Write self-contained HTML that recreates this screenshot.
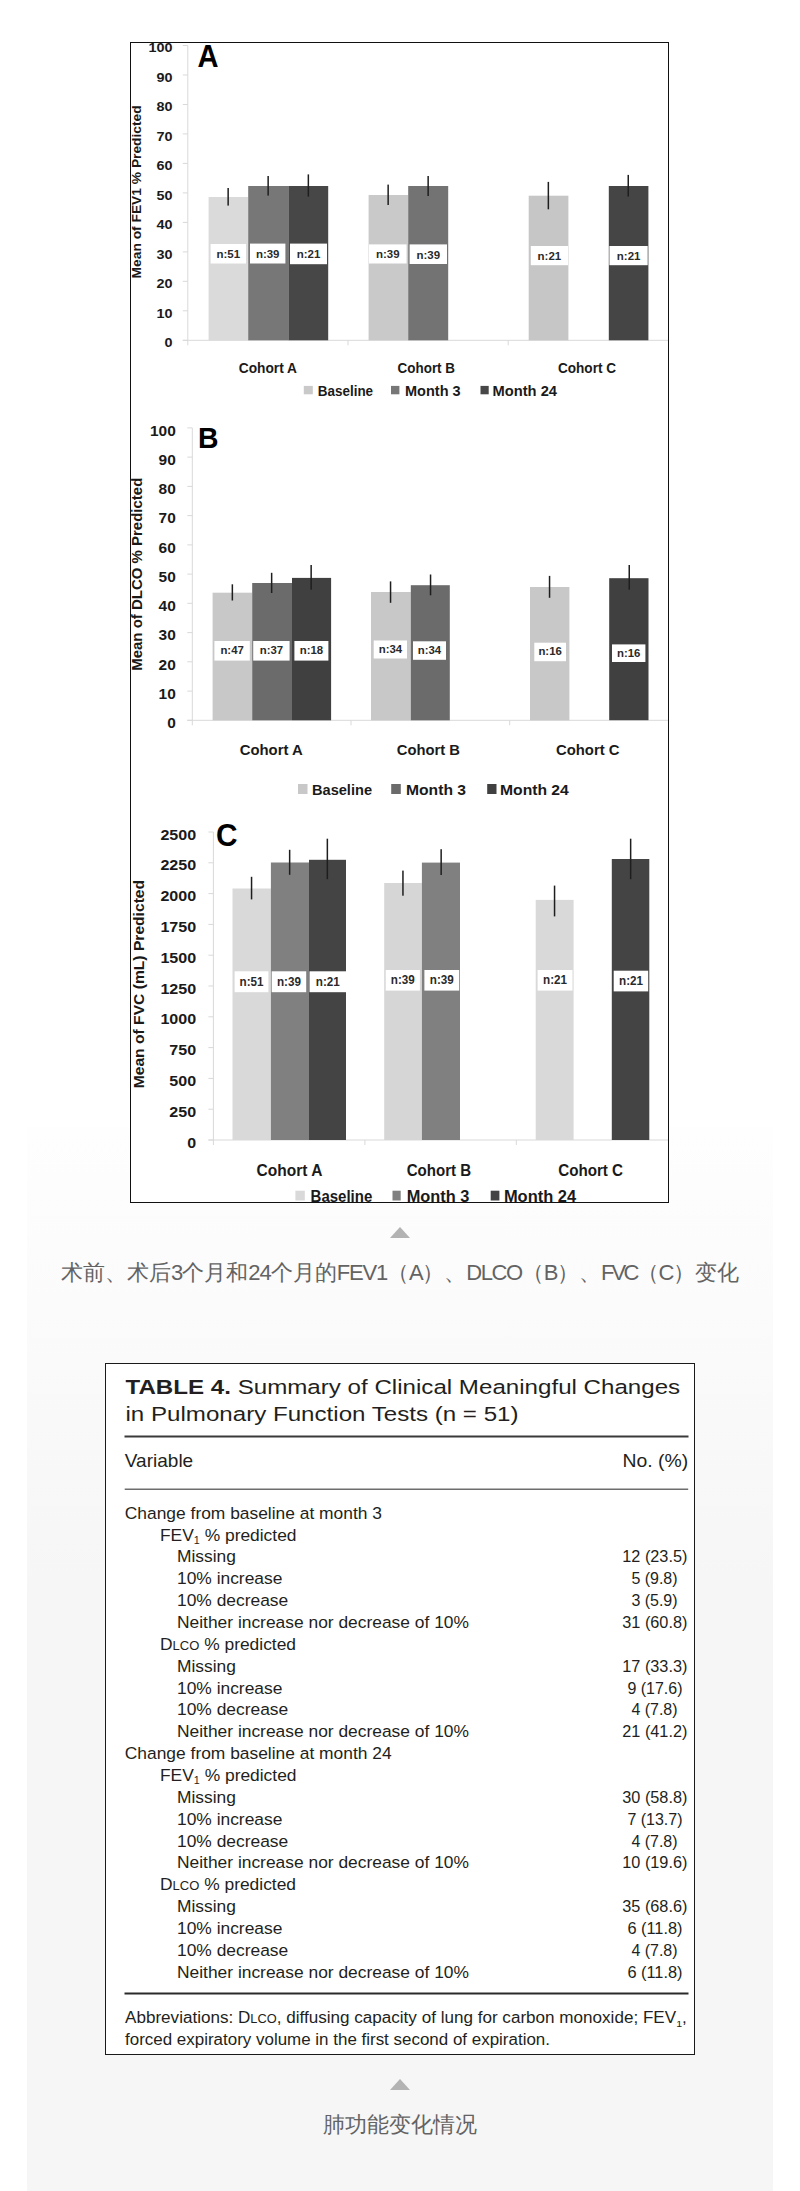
<!DOCTYPE html>
<html><head><meta charset="utf-8">
<style>
html,body{margin:0;padding:0;}
body{width:800px;height:2191px;position:relative;overflow:hidden;background:#fff;font-family:'Liberation Sans', sans-serif;}
.panel{position:absolute;left:27px;top:1127px;width:746px;height:1064px;background:linear-gradient(to bottom,#fefefe 0px,#fbfbfb 180px,#f6f6f6 460px,#f6f6f6 1064px);}
.chartbox{position:absolute;left:130px;top:42px;width:537px;height:1159px;border:1px solid #111;background:#fff;}
.tri{position:absolute;width:0;height:0;border-left:10px solid transparent;border-right:10px solid transparent;border-bottom:11px solid #b3b3b3;}
.cap{position:absolute;left:0;width:800px;text-align:center;color:#636363;font-size:22px;line-height:30px;}
.tablebox{position:absolute;left:105px;top:1363px;width:588px;height:690px;border:1px solid #1a1a1a;background:#fff;}
svg{position:absolute;left:0;top:0;}
</style></head><body>
<div class="panel"></div>
<div class="chartbox"></div>
<svg width="800" height="1210" viewBox="0 0 800 1210" style="font-family:'Liberation Sans', sans-serif">
<defs><clipPath id="cb"><rect x="131" y="43" width="537" height="1159"/></clipPath></defs>
<g clip-path="url(#cb)">
<rect x="187.3" y="45.5" width="1.0" height="295.3" fill="#d9d9d9"/>
<rect x="182.8" y="339.8" width="485.2" height="1.0" fill="#d9d9d9"/>
<rect x="182.8" y="339.8" width="5.0" height="1.0" fill="#d9d9d9"/>
<text x="164.4" y="347.2" font-size="13.5" font-weight="bold" fill="#1a1a1a" text-anchor="start" textLength="8.0" lengthAdjust="spacingAndGlyphs">0</text>
<rect x="182.8" y="310.3" width="5.0" height="1.0" fill="#d9d9d9"/>
<text x="156.4" y="317.7" font-size="13.5" font-weight="bold" fill="#1a1a1a" text-anchor="start" textLength="16.0" lengthAdjust="spacingAndGlyphs">10</text>
<rect x="182.8" y="280.8" width="5.0" height="1.0" fill="#d9d9d9"/>
<text x="156.4" y="288.2" font-size="13.5" font-weight="bold" fill="#1a1a1a" text-anchor="start" textLength="16.0" lengthAdjust="spacingAndGlyphs">20</text>
<rect x="182.8" y="251.4" width="5.0" height="1.0" fill="#d9d9d9"/>
<text x="156.4" y="258.8" font-size="13.5" font-weight="bold" fill="#1a1a1a" text-anchor="start" textLength="16.0" lengthAdjust="spacingAndGlyphs">30</text>
<rect x="182.8" y="221.9" width="5.0" height="1.0" fill="#d9d9d9"/>
<text x="156.4" y="229.3" font-size="13.5" font-weight="bold" fill="#1a1a1a" text-anchor="start" textLength="16.0" lengthAdjust="spacingAndGlyphs">40</text>
<rect x="182.8" y="192.4" width="5.0" height="1.0" fill="#d9d9d9"/>
<text x="156.4" y="199.8" font-size="13.5" font-weight="bold" fill="#1a1a1a" text-anchor="start" textLength="16.0" lengthAdjust="spacingAndGlyphs">50</text>
<rect x="182.8" y="162.9" width="5.0" height="1.0" fill="#d9d9d9"/>
<text x="156.4" y="170.3" font-size="13.5" font-weight="bold" fill="#1a1a1a" text-anchor="start" textLength="16.0" lengthAdjust="spacingAndGlyphs">60</text>
<rect x="182.8" y="133.4" width="5.0" height="1.0" fill="#d9d9d9"/>
<text x="156.4" y="140.8" font-size="13.5" font-weight="bold" fill="#1a1a1a" text-anchor="start" textLength="16.0" lengthAdjust="spacingAndGlyphs">70</text>
<rect x="182.8" y="104.0" width="5.0" height="1.0" fill="#d9d9d9"/>
<text x="156.4" y="111.4" font-size="13.5" font-weight="bold" fill="#1a1a1a" text-anchor="start" textLength="16.0" lengthAdjust="spacingAndGlyphs">80</text>
<rect x="182.8" y="74.5" width="5.0" height="1.0" fill="#d9d9d9"/>
<text x="156.4" y="81.9" font-size="13.5" font-weight="bold" fill="#1a1a1a" text-anchor="start" textLength="16.0" lengthAdjust="spacingAndGlyphs">90</text>
<rect x="182.8" y="45.0" width="5.0" height="1.0" fill="#d9d9d9"/>
<text x="148.4" y="52.4" font-size="13.5" font-weight="bold" fill="#1a1a1a" text-anchor="start" textLength="24.0" lengthAdjust="spacingAndGlyphs">100</text>
<rect x="187.3" y="340.3" width="1.0" height="5.0" fill="#d9d9d9"/>
<rect x="347.5" y="340.3" width="1.0" height="5.0" fill="#d9d9d9"/>
<rect x="507.7" y="340.3" width="1.0" height="5.0" fill="#d9d9d9"/>
<rect x="208.6" y="197.0" width="39.6" height="143.3" fill="#dadada"/>
<rect x="248.2" y="186.0" width="40.2" height="154.3" fill="#777777"/>
<rect x="288.4" y="186.0" width="39.8" height="154.3" fill="#474747"/>
<rect x="368.6" y="195.0" width="39.6" height="145.3" fill="#c9c9c9"/>
<rect x="408.2" y="186.0" width="40.0" height="154.3" fill="#737373"/>
<rect x="528.7" y="195.7" width="39.7" height="144.6" fill="#c6c6c6"/>
<rect x="608.8" y="186.0" width="39.6" height="154.3" fill="#454545"/>
<rect x="227.4" y="188.0" width="1.5" height="17.6" fill="#1e1e1e"/>
<rect x="267.4" y="176.0" width="1.5" height="19.6" fill="#1e1e1e"/>
<rect x="307.6" y="174.4" width="1.5" height="22.2" fill="#1e1e1e"/>
<rect x="387.4" y="184.6" width="1.5" height="20.4" fill="#1e1e1e"/>
<rect x="427.4" y="176.0" width="1.5" height="20.0" fill="#1e1e1e"/>
<rect x="547.6" y="181.9" width="1.5" height="27.4" fill="#1e1e1e"/>
<rect x="627.5" y="174.9" width="1.5" height="21.6" fill="#1e1e1e"/>
<rect x="210.6" y="244.0" width="35.4" height="19.5" fill="#ffffff"/>
<text x="216.5" y="258.1" font-size="11.5" font-weight="bold" fill="#2a2a2a" text-anchor="start" textLength="23.6" lengthAdjust="spacingAndGlyphs">n:51</text>
<rect x="250.0" y="243.6" width="35.4" height="19.9" fill="#ffffff"/>
<text x="255.9" y="257.9" font-size="11.5" font-weight="bold" fill="#2a2a2a" text-anchor="start" textLength="23.6" lengthAdjust="spacingAndGlyphs">n:39</text>
<rect x="290.0" y="243.6" width="37.0" height="20.6" fill="#ffffff"/>
<text x="296.7" y="258.2" font-size="11.5" font-weight="bold" fill="#2a2a2a" text-anchor="start" textLength="23.6" lengthAdjust="spacingAndGlyphs">n:21</text>
<rect x="369.0" y="244.4" width="37.6" height="19.1" fill="#ffffff"/>
<text x="376.0" y="258.2" font-size="11.5" font-weight="bold" fill="#2a2a2a" text-anchor="start" textLength="23.6" lengthAdjust="spacingAndGlyphs">n:39</text>
<rect x="409.6" y="244.4" width="37.4" height="19.6" fill="#ffffff"/>
<text x="416.5" y="258.5" font-size="11.5" font-weight="bold" fill="#2a2a2a" text-anchor="start" textLength="23.6" lengthAdjust="spacingAndGlyphs">n:39</text>
<rect x="530.8" y="246.0" width="37.2" height="19.2" fill="#ffffff"/>
<text x="537.6" y="259.9" font-size="11.5" font-weight="bold" fill="#2a2a2a" text-anchor="start" textLength="23.6" lengthAdjust="spacingAndGlyphs">n:21</text>
<rect x="609.4" y="246.0" width="38.3" height="19.2" fill="#ffffff"/>
<text x="616.8" y="259.9" font-size="11.5" font-weight="bold" fill="#2a2a2a" text-anchor="start" textLength="23.6" lengthAdjust="spacingAndGlyphs">n:21</text>
<text x="197.5" y="66.5" font-size="31.5" font-weight="bold" fill="#000" text-anchor="start" textLength="21.0" lengthAdjust="spacingAndGlyphs">A</text>
<text x="0" y="0" font-size="13.2" font-weight="bold" fill="#1a1a1a" textLength="173.1" lengthAdjust="spacingAndGlyphs" transform="translate(141.4,278.4) rotate(-90)">Mean of FEV1 % Predicted</text>
<text x="238.8" y="372.5" font-size="15" font-weight="bold" fill="#1a1a1a" text-anchor="start" textLength="58.2" lengthAdjust="spacingAndGlyphs">Cohort A</text>
<text x="397.6" y="372.5" font-size="15" font-weight="bold" fill="#1a1a1a" text-anchor="start" textLength="57.4" lengthAdjust="spacingAndGlyphs">Cohort B</text>
<text x="558.0" y="372.5" font-size="15" font-weight="bold" fill="#1a1a1a" text-anchor="start" textLength="58.0" lengthAdjust="spacingAndGlyphs">Cohort C</text>
<rect x="303.8" y="385.9" width="9.0" height="8.4" fill="#c9c9c9"/>
<rect x="391.0" y="385.9" width="8.4" height="8.4" fill="#777777"/>
<rect x="480.5" y="385.9" width="8.2" height="8.4" fill="#474747"/>
<text x="317.8" y="395.6" font-size="15" font-weight="bold" fill="#1a1a1a" text-anchor="start" textLength="55.3" lengthAdjust="spacingAndGlyphs">Baseline</text>
<text x="405.0" y="395.6" font-size="15" font-weight="bold" fill="#1a1a1a" text-anchor="start" textLength="55.6" lengthAdjust="spacingAndGlyphs">Month 3</text>
<text x="492.5" y="395.6" font-size="15" font-weight="bold" fill="#1a1a1a" text-anchor="start" textLength="64.5" lengthAdjust="spacingAndGlyphs">Month 24</text>
<rect x="191.8" y="427.9" width="1.0" height="292.9" fill="#d9d9d9"/>
<rect x="187.3" y="719.8" width="480.6" height="1.0" fill="#d9d9d9"/>
<rect x="187.3" y="719.8" width="5.0" height="1.0" fill="#d9d9d9"/>
<text x="167.2" y="728.0" font-size="14.5" font-weight="bold" fill="#1a1a1a" text-anchor="start" textLength="8.6" lengthAdjust="spacingAndGlyphs">0</text>
<rect x="187.3" y="690.6" width="5.0" height="1.0" fill="#d9d9d9"/>
<text x="158.6" y="698.8" font-size="14.5" font-weight="bold" fill="#1a1a1a" text-anchor="start" textLength="17.2" lengthAdjust="spacingAndGlyphs">10</text>
<rect x="187.3" y="661.3" width="5.0" height="1.0" fill="#d9d9d9"/>
<text x="158.6" y="669.5" font-size="14.5" font-weight="bold" fill="#1a1a1a" text-anchor="start" textLength="17.2" lengthAdjust="spacingAndGlyphs">20</text>
<rect x="187.3" y="632.1" width="5.0" height="1.0" fill="#d9d9d9"/>
<text x="158.6" y="640.3" font-size="14.5" font-weight="bold" fill="#1a1a1a" text-anchor="start" textLength="17.2" lengthAdjust="spacingAndGlyphs">30</text>
<rect x="187.3" y="602.8" width="5.0" height="1.0" fill="#d9d9d9"/>
<text x="158.6" y="611.0" font-size="14.5" font-weight="bold" fill="#1a1a1a" text-anchor="start" textLength="17.2" lengthAdjust="spacingAndGlyphs">40</text>
<rect x="187.3" y="573.6" width="5.0" height="1.0" fill="#d9d9d9"/>
<text x="158.6" y="581.8" font-size="14.5" font-weight="bold" fill="#1a1a1a" text-anchor="start" textLength="17.2" lengthAdjust="spacingAndGlyphs">50</text>
<rect x="187.3" y="544.4" width="5.0" height="1.0" fill="#d9d9d9"/>
<text x="158.6" y="552.6" font-size="14.5" font-weight="bold" fill="#1a1a1a" text-anchor="start" textLength="17.2" lengthAdjust="spacingAndGlyphs">60</text>
<rect x="187.3" y="515.1" width="5.0" height="1.0" fill="#d9d9d9"/>
<text x="158.6" y="523.3" font-size="14.5" font-weight="bold" fill="#1a1a1a" text-anchor="start" textLength="17.2" lengthAdjust="spacingAndGlyphs">70</text>
<rect x="187.3" y="485.9" width="5.0" height="1.0" fill="#d9d9d9"/>
<text x="158.6" y="494.1" font-size="14.5" font-weight="bold" fill="#1a1a1a" text-anchor="start" textLength="17.2" lengthAdjust="spacingAndGlyphs">80</text>
<rect x="187.3" y="456.6" width="5.0" height="1.0" fill="#d9d9d9"/>
<text x="158.6" y="464.8" font-size="14.5" font-weight="bold" fill="#1a1a1a" text-anchor="start" textLength="17.2" lengthAdjust="spacingAndGlyphs">90</text>
<rect x="187.3" y="427.4" width="5.0" height="1.0" fill="#d9d9d9"/>
<text x="150.0" y="435.6" font-size="14.5" font-weight="bold" fill="#1a1a1a" text-anchor="start" textLength="25.8" lengthAdjust="spacingAndGlyphs">100</text>
<rect x="191.8" y="720.3" width="1.0" height="5.0" fill="#d9d9d9"/>
<rect x="350.5" y="720.3" width="1.0" height="5.0" fill="#d9d9d9"/>
<rect x="509.2" y="720.3" width="1.0" height="5.0" fill="#d9d9d9"/>
<rect x="212.6" y="592.7" width="39.6" height="127.6" fill="#c8c8c8"/>
<rect x="252.2" y="583.0" width="39.8" height="137.3" fill="#6b6b6b"/>
<rect x="292.0" y="577.9" width="39.1" height="142.4" fill="#404040"/>
<rect x="371.0" y="592.0" width="39.8" height="128.3" fill="#c8c8c8"/>
<rect x="410.8" y="585.2" width="39.0" height="135.1" fill="#6b6b6b"/>
<rect x="530.0" y="587.0" width="39.4" height="133.3" fill="#c8c8c8"/>
<rect x="609.2" y="578.2" width="39.3" height="142.0" fill="#404040"/>
<rect x="231.6" y="584.3" width="1.5" height="16.2" fill="#1e1e1e"/>
<rect x="270.9" y="572.8" width="1.5" height="20.2" fill="#1e1e1e"/>
<rect x="310.4" y="565.0" width="1.5" height="24.7" fill="#1e1e1e"/>
<rect x="389.8" y="581.4" width="1.5" height="21.4" fill="#1e1e1e"/>
<rect x="429.8" y="574.5" width="1.5" height="20.8" fill="#1e1e1e"/>
<rect x="548.8" y="575.9" width="1.5" height="21.9" fill="#1e1e1e"/>
<rect x="628.5" y="565.0" width="1.5" height="24.7" fill="#1e1e1e"/>
<rect x="214.4" y="641.0" width="35.4" height="19.6" fill="#ffffff"/>
<text x="220.4" y="654.2" font-size="11.5" font-weight="bold" fill="#2a2a2a" text-anchor="start" textLength="23.4" lengthAdjust="spacingAndGlyphs">n:47</text>
<rect x="253.2" y="641.0" width="36.4" height="19.6" fill="#ffffff"/>
<text x="259.7" y="654.2" font-size="11.5" font-weight="bold" fill="#2a2a2a" text-anchor="start" textLength="23.4" lengthAdjust="spacingAndGlyphs">n:37</text>
<rect x="294.4" y="641.0" width="34.0" height="19.6" fill="#ffffff"/>
<text x="299.7" y="654.2" font-size="11.5" font-weight="bold" fill="#2a2a2a" text-anchor="start" textLength="23.4" lengthAdjust="spacingAndGlyphs">n:18</text>
<rect x="373.7" y="640.5" width="33.3" height="18.0" fill="#ffffff"/>
<text x="378.7" y="652.9" font-size="11.5" font-weight="bold" fill="#2a2a2a" text-anchor="start" textLength="23.4" lengthAdjust="spacingAndGlyphs">n:34</text>
<rect x="413.0" y="641.3" width="33.0" height="18.5" fill="#ffffff"/>
<text x="417.8" y="653.9" font-size="11.5" font-weight="bold" fill="#2a2a2a" text-anchor="start" textLength="23.4" lengthAdjust="spacingAndGlyphs">n:34</text>
<rect x="534.3" y="642.7" width="31.7" height="18.5" fill="#ffffff"/>
<text x="538.4" y="655.4" font-size="11.5" font-weight="bold" fill="#2a2a2a" text-anchor="start" textLength="23.4" lengthAdjust="spacingAndGlyphs">n:16</text>
<rect x="612.0" y="644.4" width="33.4" height="17.6" fill="#ffffff"/>
<text x="617.0" y="656.6" font-size="11.5" font-weight="bold" fill="#2a2a2a" text-anchor="start" textLength="23.4" lengthAdjust="spacingAndGlyphs">n:16</text>
<text x="198.0" y="448.0" font-size="30" font-weight="bold" fill="#000" text-anchor="start" textLength="20.5" lengthAdjust="spacingAndGlyphs">B</text>
<text x="0" y="0" font-size="14.5" font-weight="bold" fill="#1a1a1a" textLength="193.1" lengthAdjust="spacingAndGlyphs" transform="translate(142.0,670.8) rotate(-90)">Mean of DLCO % Predicted</text>
<text x="239.7" y="755.0" font-size="15.5" font-weight="bold" fill="#1a1a1a" text-anchor="start" textLength="63.1" lengthAdjust="spacingAndGlyphs">Cohort A</text>
<text x="396.8" y="755.0" font-size="15.5" font-weight="bold" fill="#1a1a1a" text-anchor="start" textLength="63.2" lengthAdjust="spacingAndGlyphs">Cohort B</text>
<text x="556.0" y="755.0" font-size="15.5" font-weight="bold" fill="#1a1a1a" text-anchor="start" textLength="63.5" lengthAdjust="spacingAndGlyphs">Cohort C</text>
<rect x="298.0" y="784.0" width="9.5" height="10.0" fill="#c8c8c8"/>
<rect x="391.2" y="784.0" width="9.6" height="10.0" fill="#6b6b6b"/>
<rect x="487.2" y="784.0" width="9.3" height="10.0" fill="#404040"/>
<text x="312.0" y="795.2" font-size="15.5" font-weight="bold" fill="#1a1a1a" text-anchor="start" textLength="60.0" lengthAdjust="spacingAndGlyphs">Baseline</text>
<text x="406.0" y="795.2" font-size="15.5" font-weight="bold" fill="#1a1a1a" text-anchor="start" textLength="60.0" lengthAdjust="spacingAndGlyphs">Month 3</text>
<text x="500.0" y="795.2" font-size="15.5" font-weight="bold" fill="#1a1a1a" text-anchor="start" textLength="68.8" lengthAdjust="spacingAndGlyphs">Month 24</text>
<rect x="212.9" y="832.0" width="1.0" height="308.5" fill="#d9d9d9"/>
<rect x="208.4" y="1139.5" width="459.6" height="1.0" fill="#d9d9d9"/>
<rect x="208.4" y="1139.5" width="5.0" height="1.0" fill="#d9d9d9"/>
<text x="187.2" y="1147.6" font-size="15.5" font-weight="bold" fill="#1a1a1a" text-anchor="start" textLength="8.9" lengthAdjust="spacingAndGlyphs">0</text>
<rect x="208.4" y="1108.7" width="5.0" height="1.0" fill="#d9d9d9"/>
<text x="169.3" y="1116.8" font-size="15.5" font-weight="bold" fill="#1a1a1a" text-anchor="start" textLength="26.8" lengthAdjust="spacingAndGlyphs">250</text>
<rect x="208.4" y="1077.9" width="5.0" height="1.0" fill="#d9d9d9"/>
<text x="169.3" y="1086.0" font-size="15.5" font-weight="bold" fill="#1a1a1a" text-anchor="start" textLength="26.8" lengthAdjust="spacingAndGlyphs">500</text>
<rect x="208.4" y="1047.1" width="5.0" height="1.0" fill="#d9d9d9"/>
<text x="169.3" y="1055.2" font-size="15.5" font-weight="bold" fill="#1a1a1a" text-anchor="start" textLength="26.8" lengthAdjust="spacingAndGlyphs">750</text>
<rect x="208.4" y="1016.3" width="5.0" height="1.0" fill="#d9d9d9"/>
<text x="160.4" y="1024.4" font-size="15.5" font-weight="bold" fill="#1a1a1a" text-anchor="start" textLength="35.8" lengthAdjust="spacingAndGlyphs">1000</text>
<rect x="208.4" y="985.5" width="5.0" height="1.0" fill="#d9d9d9"/>
<text x="160.4" y="993.6" font-size="15.5" font-weight="bold" fill="#1a1a1a" text-anchor="start" textLength="35.8" lengthAdjust="spacingAndGlyphs">1250</text>
<rect x="208.4" y="954.7" width="5.0" height="1.0" fill="#d9d9d9"/>
<text x="160.4" y="962.8" font-size="15.5" font-weight="bold" fill="#1a1a1a" text-anchor="start" textLength="35.8" lengthAdjust="spacingAndGlyphs">1500</text>
<rect x="208.4" y="923.9" width="5.0" height="1.0" fill="#d9d9d9"/>
<text x="160.4" y="932.0" font-size="15.5" font-weight="bold" fill="#1a1a1a" text-anchor="start" textLength="35.8" lengthAdjust="spacingAndGlyphs">1750</text>
<rect x="208.4" y="893.1" width="5.0" height="1.0" fill="#d9d9d9"/>
<text x="160.4" y="901.2" font-size="15.5" font-weight="bold" fill="#1a1a1a" text-anchor="start" textLength="35.8" lengthAdjust="spacingAndGlyphs">2000</text>
<rect x="208.4" y="862.3" width="5.0" height="1.0" fill="#d9d9d9"/>
<text x="160.4" y="870.4" font-size="15.5" font-weight="bold" fill="#1a1a1a" text-anchor="start" textLength="35.8" lengthAdjust="spacingAndGlyphs">2250</text>
<rect x="208.4" y="831.5" width="5.0" height="1.0" fill="#d9d9d9"/>
<text x="160.4" y="839.6" font-size="15.5" font-weight="bold" fill="#1a1a1a" text-anchor="start" textLength="35.8" lengthAdjust="spacingAndGlyphs">2500</text>
<rect x="212.9" y="1140.0" width="1.0" height="5.0" fill="#d9d9d9"/>
<rect x="364.4" y="1140.0" width="1.0" height="5.0" fill="#d9d9d9"/>
<rect x="515.8" y="1140.0" width="1.0" height="5.0" fill="#d9d9d9"/>
<rect x="232.5" y="888.5" width="38.4" height="251.5" fill="#d9d9d9"/>
<rect x="270.9" y="862.5" width="38.1" height="277.5" fill="#808080"/>
<rect x="309.0" y="859.8" width="37.0" height="280.2" fill="#444444"/>
<rect x="384.2" y="883.0" width="37.7" height="257.0" fill="#d6d6d6"/>
<rect x="421.9" y="862.6" width="38.1" height="277.4" fill="#808080"/>
<rect x="535.7" y="899.9" width="37.9" height="240.1" fill="#d9d9d9"/>
<rect x="611.8" y="859.0" width="37.5" height="281.0" fill="#444444"/>
<rect x="250.8" y="876.8" width="1.5" height="22.6" fill="#1e1e1e"/>
<rect x="288.9" y="849.8" width="1.5" height="25.0" fill="#1e1e1e"/>
<rect x="326.6" y="838.7" width="1.5" height="40.5" fill="#1e1e1e"/>
<rect x="402.2" y="870.6" width="1.5" height="25.1" fill="#1e1e1e"/>
<rect x="440.4" y="849.2" width="1.5" height="25.8" fill="#1e1e1e"/>
<rect x="553.8" y="885.6" width="1.5" height="30.8" fill="#1e1e1e"/>
<rect x="629.9" y="838.7" width="1.5" height="40.5" fill="#1e1e1e"/>
<rect x="234.6" y="971.3" width="33.8" height="20.9" fill="#ffffff"/>
<text x="239.5" y="985.5" font-size="12" font-weight="bold" fill="#2a2a2a" text-anchor="start" textLength="24.0" lengthAdjust="spacingAndGlyphs">n:51</text>
<rect x="271.7" y="971.3" width="34.5" height="20.9" fill="#ffffff"/>
<text x="276.9" y="985.5" font-size="12" font-weight="bold" fill="#2a2a2a" text-anchor="start" textLength="24.0" lengthAdjust="spacingAndGlyphs">n:39</text>
<rect x="309.5" y="971.3" width="36.5" height="20.9" fill="#ffffff"/>
<text x="315.8" y="985.5" font-size="12" font-weight="bold" fill="#2a2a2a" text-anchor="start" textLength="24.0" lengthAdjust="spacingAndGlyphs">n:21</text>
<rect x="385.7" y="970.0" width="34.2" height="20.6" fill="#ffffff"/>
<text x="390.8" y="984.1" font-size="12" font-weight="bold" fill="#2a2a2a" text-anchor="start" textLength="24.0" lengthAdjust="spacingAndGlyphs">n:39</text>
<rect x="424.4" y="970.0" width="34.8" height="20.6" fill="#ffffff"/>
<text x="429.8" y="984.1" font-size="12" font-weight="bold" fill="#2a2a2a" text-anchor="start" textLength="24.0" lengthAdjust="spacingAndGlyphs">n:39</text>
<rect x="537.6" y="970.0" width="34.9" height="20.6" fill="#ffffff"/>
<text x="543.0" y="984.1" font-size="12" font-weight="bold" fill="#2a2a2a" text-anchor="start" textLength="24.0" lengthAdjust="spacingAndGlyphs">n:21</text>
<rect x="613.7" y="970.7" width="34.5" height="20.7" fill="#ffffff"/>
<text x="619.0" y="984.8" font-size="12" font-weight="bold" fill="#2a2a2a" text-anchor="start" textLength="24.0" lengthAdjust="spacingAndGlyphs">n:21</text>
<text x="216.0" y="846.0" font-size="31" font-weight="bold" fill="#000" text-anchor="start" textLength="21.5" lengthAdjust="spacingAndGlyphs">C</text>
<text x="0" y="0" font-size="15.5" font-weight="bold" fill="#1a1a1a" textLength="208.4" lengthAdjust="spacingAndGlyphs" transform="translate(143.6,1088.3) rotate(-90)">Mean of FVC (mL) Predicted</text>
<text x="256.6" y="1175.5" font-size="16" font-weight="bold" fill="#1a1a1a" text-anchor="start" textLength="65.8" lengthAdjust="spacingAndGlyphs">Cohort A</text>
<text x="406.7" y="1175.5" font-size="16" font-weight="bold" fill="#1a1a1a" text-anchor="start" textLength="64.5" lengthAdjust="spacingAndGlyphs">Cohort B</text>
<text x="558.2" y="1175.5" font-size="16" font-weight="bold" fill="#1a1a1a" text-anchor="start" textLength="64.9" lengthAdjust="spacingAndGlyphs">Cohort C</text>
<rect x="295.4" y="1190.7" width="9.4" height="9.8" fill="#d9d9d9"/>
<rect x="392.5" y="1190.7" width="8.2" height="9.8" fill="#808080"/>
<rect x="490.7" y="1190.7" width="8.7" height="9.8" fill="#444444"/>
<text x="310.6" y="1201.5" font-size="16" font-weight="bold" fill="#1a1a1a" text-anchor="start" textLength="61.7" lengthAdjust="spacingAndGlyphs">Baseline</text>
<text x="406.7" y="1201.5" font-size="16" font-weight="bold" fill="#1a1a1a" text-anchor="start" textLength="62.7" lengthAdjust="spacingAndGlyphs">Month 3</text>
<text x="503.9" y="1201.5" font-size="16" font-weight="bold" fill="#1a1a1a" text-anchor="start" textLength="72.3" lengthAdjust="spacingAndGlyphs">Month 24</text>
</g>
</svg>
<div class="tri" style="left:390px;top:1227px;"></div>
<div class="cap" style="top:1258px;">术前、术后<span style="letter-spacing:-1px">3</span>个月和<span style="letter-spacing:-1px">24</span>个月的<span style="letter-spacing:-1.2px">FEV1</span>（<span style="letter-spacing:-1.5px">A</span>）、<span style="letter-spacing:-1.4px">DLCO</span>（<span style="letter-spacing:-1.5px">B</span>）、<span style="letter-spacing:-2.8px">FVC</span>（<span style="letter-spacing:-1.5px">C</span>）变化</div>
<div class="tablebox"></div>
<svg width="800" height="2191" viewBox="0 0 800 2191" style="font-family:'Liberation Sans', sans-serif">
<text x="125.5" y="1393.8" font-size="20.5" font-weight="normal" fill="#231f20" text-anchor="start" textLength="554.7" lengthAdjust="spacingAndGlyphs"><tspan font-weight="bold">TABLE 4.</tspan> Summary of Clinical Meaningful Changes</text>
<text x="125.5" y="1420.5" font-size="20.5" font-weight="normal" fill="#231f20" text-anchor="start" textLength="393.0" lengthAdjust="spacingAndGlyphs">in Pulmonary Function Tests (n = 51)</text>
<rect x="124.5" y="1435.5" width="564" height="2" fill="#3a3a3a"/>
<text x="124.8" y="1467.1" font-size="19" font-weight="normal" fill="#231f20" text-anchor="start" textLength="68.4" lengthAdjust="spacingAndGlyphs">Variable</text>
<text x="622.5" y="1467.3" font-size="19" font-weight="normal" fill="#231f20" text-anchor="start" textLength="65.7" lengthAdjust="spacingAndGlyphs">No. (%)</text>
<rect x="124.7" y="1488.6" width="563.5" height="1.2" fill="#4a4a4a"/>
<text x="124.8" y="1518.7" font-size="17.4" font-weight="normal" fill="#231f20" text-anchor="start">Change from baseline at month 3</text>
<text x="160.0" y="1540.5" font-size="17.4" font-weight="normal" fill="#231f20" text-anchor="start">FEV<tspan font-size="62%" dy="3.5">1</tspan><tspan dy="-3.5"> % predicted</tspan></text>
<text x="177.0" y="1562.4" font-size="17.4" font-weight="normal" fill="#231f20" text-anchor="start">Missing</text>
<text x="622.3" y="1562.4" font-size="16.3" font-weight="normal" fill="#231f20" text-anchor="start" textLength="65.1" lengthAdjust="spacingAndGlyphs">12 (23.5)</text>
<text x="177.0" y="1584.2" font-size="17.4" font-weight="normal" fill="#231f20" text-anchor="start">10% increase</text>
<text x="631.4" y="1584.2" font-size="16.3" font-weight="normal" fill="#231f20" text-anchor="start" textLength="46.2" lengthAdjust="spacingAndGlyphs">5 (9.8)</text>
<text x="177.0" y="1606.1" font-size="17.4" font-weight="normal" fill="#231f20" text-anchor="start">10% decrease</text>
<text x="631.4" y="1606.1" font-size="16.3" font-weight="normal" fill="#231f20" text-anchor="start" textLength="46.2" lengthAdjust="spacingAndGlyphs">3 (5.9)</text>
<text x="177.0" y="1628.0" font-size="17.4" font-weight="normal" fill="#231f20" text-anchor="start">Neither increase nor decrease of 10%</text>
<text x="622.3" y="1628.0" font-size="16.3" font-weight="normal" fill="#231f20" text-anchor="start" textLength="65.1" lengthAdjust="spacingAndGlyphs">31 (60.8)</text>
<text x="160.0" y="1649.8" font-size="17.4" font-weight="normal" fill="#231f20" text-anchor="start">D<tspan font-size="75%">LCO</tspan> % predicted</text>
<text x="177.0" y="1671.7" font-size="17.4" font-weight="normal" fill="#231f20" text-anchor="start">Missing</text>
<text x="622.3" y="1671.7" font-size="16.3" font-weight="normal" fill="#231f20" text-anchor="start" textLength="65.1" lengthAdjust="spacingAndGlyphs">17 (33.3)</text>
<text x="177.0" y="1693.5" font-size="17.4" font-weight="normal" fill="#231f20" text-anchor="start">10% increase</text>
<text x="627.4" y="1693.5" font-size="16.3" font-weight="normal" fill="#231f20" text-anchor="start" textLength="55.1" lengthAdjust="spacingAndGlyphs">9 (17.6)</text>
<text x="177.0" y="1715.4" font-size="17.4" font-weight="normal" fill="#231f20" text-anchor="start">10% decrease</text>
<text x="631.4" y="1715.4" font-size="16.3" font-weight="normal" fill="#231f20" text-anchor="start" textLength="46.2" lengthAdjust="spacingAndGlyphs">4 (7.8)</text>
<text x="177.0" y="1737.2" font-size="17.4" font-weight="normal" fill="#231f20" text-anchor="start">Neither increase nor decrease of 10%</text>
<text x="622.3" y="1737.2" font-size="16.3" font-weight="normal" fill="#231f20" text-anchor="start" textLength="65.1" lengthAdjust="spacingAndGlyphs">21 (41.2)</text>
<text x="124.8" y="1759.1" font-size="17.4" font-weight="normal" fill="#231f20" text-anchor="start">Change from baseline at month 24</text>
<text x="160.0" y="1780.9" font-size="17.4" font-weight="normal" fill="#231f20" text-anchor="start">FEV<tspan font-size="62%" dy="3.5">1</tspan><tspan dy="-3.5"> % predicted</tspan></text>
<text x="177.0" y="1802.8" font-size="17.4" font-weight="normal" fill="#231f20" text-anchor="start">Missing</text>
<text x="622.3" y="1802.8" font-size="16.3" font-weight="normal" fill="#231f20" text-anchor="start" textLength="65.1" lengthAdjust="spacingAndGlyphs">30 (58.8)</text>
<text x="177.0" y="1824.6" font-size="17.4" font-weight="normal" fill="#231f20" text-anchor="start">10% increase</text>
<text x="627.4" y="1824.6" font-size="16.3" font-weight="normal" fill="#231f20" text-anchor="start" textLength="55.1" lengthAdjust="spacingAndGlyphs">7 (13.7)</text>
<text x="177.0" y="1846.5" font-size="17.4" font-weight="normal" fill="#231f20" text-anchor="start">10% decrease</text>
<text x="631.4" y="1846.5" font-size="16.3" font-weight="normal" fill="#231f20" text-anchor="start" textLength="46.2" lengthAdjust="spacingAndGlyphs">4 (7.8)</text>
<text x="177.0" y="1868.3" font-size="17.4" font-weight="normal" fill="#231f20" text-anchor="start">Neither increase nor decrease of 10%</text>
<text x="622.3" y="1868.3" font-size="16.3" font-weight="normal" fill="#231f20" text-anchor="start" textLength="65.1" lengthAdjust="spacingAndGlyphs">10 (19.6)</text>
<text x="160.0" y="1890.2" font-size="17.4" font-weight="normal" fill="#231f20" text-anchor="start">D<tspan font-size="75%">LCO</tspan> % predicted</text>
<text x="177.0" y="1912.0" font-size="17.4" font-weight="normal" fill="#231f20" text-anchor="start">Missing</text>
<text x="622.3" y="1912.0" font-size="16.3" font-weight="normal" fill="#231f20" text-anchor="start" textLength="65.1" lengthAdjust="spacingAndGlyphs">35 (68.6)</text>
<text x="177.0" y="1933.9" font-size="17.4" font-weight="normal" fill="#231f20" text-anchor="start">10% increase</text>
<text x="627.4" y="1933.9" font-size="16.3" font-weight="normal" fill="#231f20" text-anchor="start" textLength="55.1" lengthAdjust="spacingAndGlyphs">6 (11.8)</text>
<text x="177.0" y="1955.7" font-size="17.4" font-weight="normal" fill="#231f20" text-anchor="start">10% decrease</text>
<text x="631.4" y="1955.7" font-size="16.3" font-weight="normal" fill="#231f20" text-anchor="start" textLength="46.2" lengthAdjust="spacingAndGlyphs">4 (7.8)</text>
<text x="177.0" y="1977.6" font-size="17.4" font-weight="normal" fill="#231f20" text-anchor="start">Neither increase nor decrease of 10%</text>
<text x="627.4" y="1977.6" font-size="16.3" font-weight="normal" fill="#231f20" text-anchor="start" textLength="55.1" lengthAdjust="spacingAndGlyphs">6 (11.8)</text>
<rect x="124.5" y="1992.5" width="564" height="2" fill="#2a2a2a"/>
<text x="125.0" y="2023.3" font-size="15.8" font-weight="normal" fill="#231f20" text-anchor="start" textLength="561.8" lengthAdjust="spacingAndGlyphs">Abbreviations: D<tspan font-size="75%">LCO</tspan>, diffusing capacity of lung for carbon monoxide; FEV<tspan font-size="62%" dy="3.5">1</tspan><tspan dy="-3.5">,</tspan></text>
<text x="125.0" y="2044.8" font-size="15.8" font-weight="normal" fill="#231f20" text-anchor="start" textLength="425.0" lengthAdjust="spacingAndGlyphs">forced expiratory volume in the first second of expiration.</text>
</svg>
<div class="tri" style="left:390px;top:2079px;"></div>
<div class="cap" style="top:2110px;">肺功能变化情况</div>
</body></html>
